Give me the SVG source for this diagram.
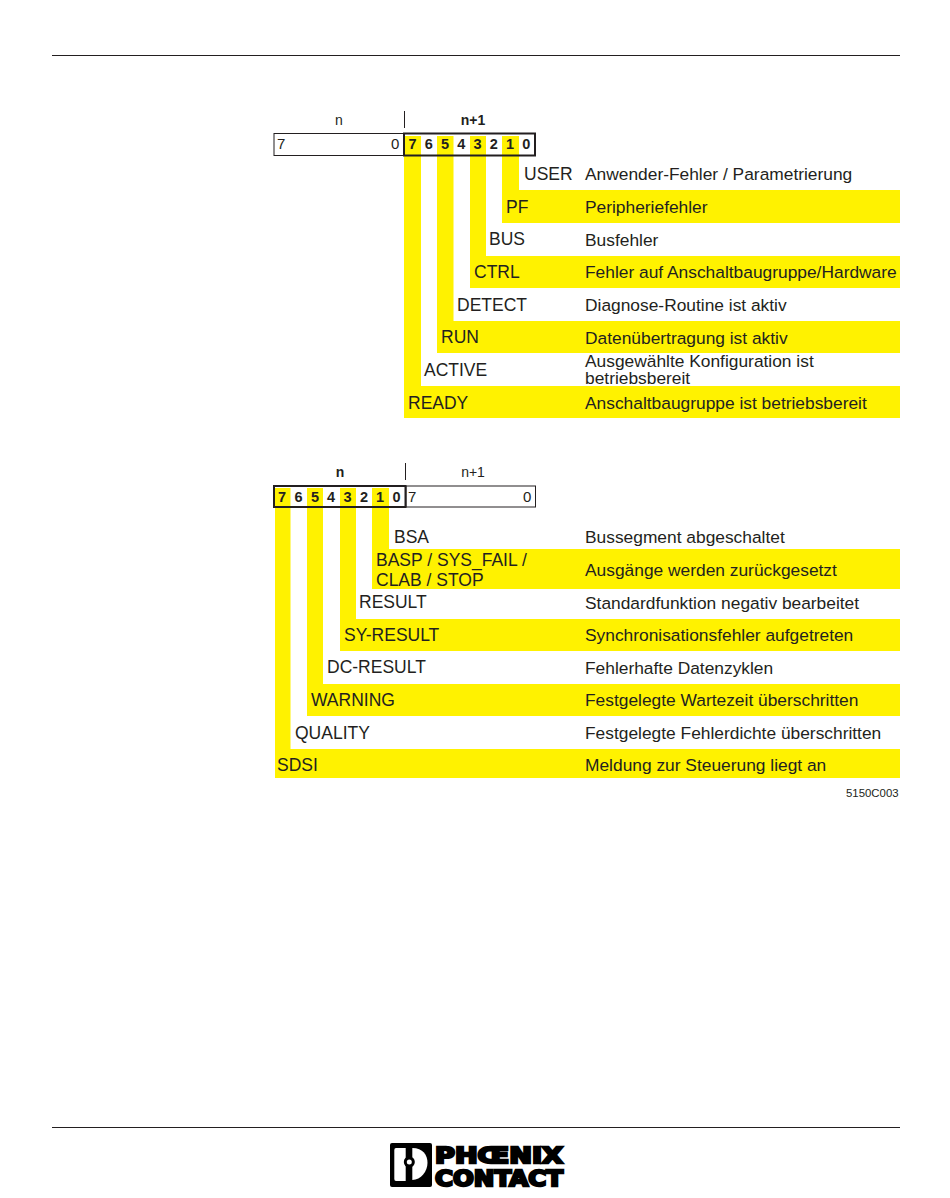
<svg xmlns="http://www.w3.org/2000/svg" width="950" height="1198" viewBox="0 0 950 1198">
<style>
text{font-family:"Liberation Sans",Arial,sans-serif;fill:#231f20}
.y{fill:#fff200}
.l{font-size:17.5px}
.d{font-size:17.37px}
.b{font-size:14.5px;font-weight:bold;text-anchor:middle}
.v{font-size:15px}
.h{font-size:14px;text-anchor:middle}
.box{fill:none;stroke:#231f20;stroke-width:1}
.bold{fill:none;stroke:#231f20;stroke-width:2}
.rule{stroke:#231f20;stroke-width:1;fill:none}
.logo{font-family:"DejaVu Sans",sans-serif;font-weight:bold;font-size:22px;fill:#000;stroke:#000;stroke-width:2.400}
</style>
<rect width="950" height="1198" fill="#fff"/>
<g id="page-rules">
<line class="rule" x1="52" y1="55.5" x2="900" y2="55.5"/>
<line class="rule" x1="52" y1="1127.5" x2="900" y2="1127.5"/>
</g>
<g id="connectors">
<path class="y" d="M404 136H421V386H900V418H404Z"/>
<path class="y" d="M437 136H453.500V321H900V353H437Z"/>
<path class="y" d="M470 136H486V256H900V288H470Z"/>
<path class="y" d="M502 136H519V190H900V223H502Z"/>
<path class="y" d="M275 488H290.500V749H900V778H275Z"/>
<path class="y" d="M307 488H323V684H900V716H307Z"/>
<path class="y" d="M340 488H356V619H900V651H340Z"/>
<path class="y" d="M372 488H389V549H900V589H372Z"/>
</g>
<g id="register-top">
<line class="rule" x1="404.500" y1="111" x2="404.500" y2="128"/>
<text class="h" x="339" y="125">n</text>
<text class="h" x="473" y="125" font-weight="bold">n+1</text>
<rect class="box" x="274" y="133.500" width="130" height="22"/>
<text class="v" x="277" y="149">7</text>
<text class="v" x="391" y="149">0</text>
<rect class="bold" x="404" y="133.500" width="131" height="22"/>
<text class="b" x="412.500" y="149">7</text><text class="b" x="428.800" y="149">6</text><text class="b" x="445" y="149">5</text><text class="b" x="461.300" y="149">4</text><text class="b" x="477.500" y="149">3</text><text class="b" x="493.800" y="149">2</text><text class="b" x="510" y="149">1</text><text class="b" x="526.300" y="149">0</text>
</g>
<g id="register-bottom">
<line class="rule" x1="405.500" y1="463" x2="405.500" y2="480"/>
<text class="h" x="340" y="477" font-weight="bold">n</text>
<text class="h" x="473" y="477">n+1</text>
<rect class="box" x="406" y="486" width="129.500" height="21"/>
<text class="v" x="408" y="502">7</text>
<text class="v" x="523" y="502">0</text>
<rect class="bold" x="274" y="486" width="131.500" height="21"/>
<text class="b" x="282" y="501.500">7</text><text class="b" x="298.500" y="501.500">6</text><text class="b" x="315" y="501.500">5</text><text class="b" x="331" y="501.500">4</text><text class="b" x="347.500" y="501.500">3</text><text class="b" x="364" y="501.500">2</text><text class="b" x="380" y="501.500">1</text><text class="b" x="396.500" y="501.500">0</text>
</g>
<g id="row-user"><text class="l" x="524" y="180">USER</text><text class="d" x="585" y="180">Anwender-Fehler / Parametrierung</text></g>
<g id="row-pf"><text class="l" x="506" y="213">PF</text><text class="d" x="585" y="213">Peripheriefehler</text></g>
<g id="row-bus"><text class="l" x="489" y="245">BUS</text><text class="d" x="585" y="246">Busfehler</text></g>
<g id="row-ctrl"><text class="l" x="474" y="278">CTRL</text><text class="d" x="585" y="278">Fehler auf Anschaltbaugruppe/Hardware</text></g>
<g id="row-detect"><text class="l" x="457" y="311">DETECT</text><text class="d" x="585" y="311">Diagnose-Routine ist aktiv</text></g>
<g id="row-run"><text class="l" x="441" y="343">RUN</text><text class="d" x="585" y="344">Datenübertragung ist aktiv</text></g>
<g id="row-active"><text class="l" x="424" y="376">ACTIVE</text><text class="d" x="585" y="366.500">Ausgewählte Konfiguration ist</text><text class="d" x="585" y="384.200">betriebsbereit</text></g>
<g id="row-ready"><text class="l" x="408" y="409">READY</text><text class="d" x="585" y="409">Anschaltbaugruppe ist betriebsbereit</text></g>
<g id="row-bsa"><text class="l" x="394" y="543">BSA</text><text class="d" x="585" y="543">Bussegment abgeschaltet</text></g>
<g id="row-basp"><text class="l" x="376" y="566">BASP / SYS_FAIL /</text><text class="l" x="376" y="586">CLAB / STOP</text><text class="d" x="585" y="576">Ausgänge werden zurückgesetzt</text></g>
<g id="row-result"><text class="l" x="359" y="608">RESULT</text><text class="d" x="585" y="609">Standardfunktion negativ bearbeitet</text></g>
<g id="row-sy-result"><text class="l" x="344" y="641">SY-RESULT</text><text class="d" x="585" y="641">Synchronisationsfehler aufgetreten</text></g>
<g id="row-dc-result"><text class="l" x="327" y="673">DC-RESULT</text><text class="d" x="585" y="674">Fehlerhafte Datenzyklen</text></g>
<g id="row-warning"><text class="l" x="311" y="706">WARNING</text><text class="d" x="585" y="706">Festgelegte Wartezeit überschritten</text></g>
<g id="row-quality"><text class="l" x="295" y="739">QUALITY</text><text class="d" x="585" y="739">Festgelegte Fehlerdichte überschritten</text></g>
<g id="row-sdsi"><text class="l" x="277" y="771">SDSI</text><text class="d" x="585" y="771">Meldung zur Steuerung liegt an</text></g>
<text id="figure-code" x="846" y="797" font-size="11.400">5150C003</text>
<g id="logo">
<rect x="390" y="1143" width="42" height="44" rx="2" fill="#000"/>
<path d="M396 1148H405.700V1181H396Q394.300 1181 394.300 1179V1150Q394.300 1148 396 1148Z" fill="#fff"/>
<path d="M412.300 1148C423 1148 427.500 1155 427.500 1163C427.500 1171 421 1180 412.300 1180Z" fill="#fff"/>
<circle cx="409.300" cy="1162" r="5.500" fill="#000"/>
<circle cx="409.300" cy="1162" r="2.500" fill="#fff"/>
<text class="logo" x="435" y="1163" textLength="128" lengthAdjust="spacingAndGlyphs">PHŒNIX</text>
<text class="logo" x="435" y="1185.500" textLength="128" lengthAdjust="spacingAndGlyphs">CONTACT</text>
</g>
</svg>
